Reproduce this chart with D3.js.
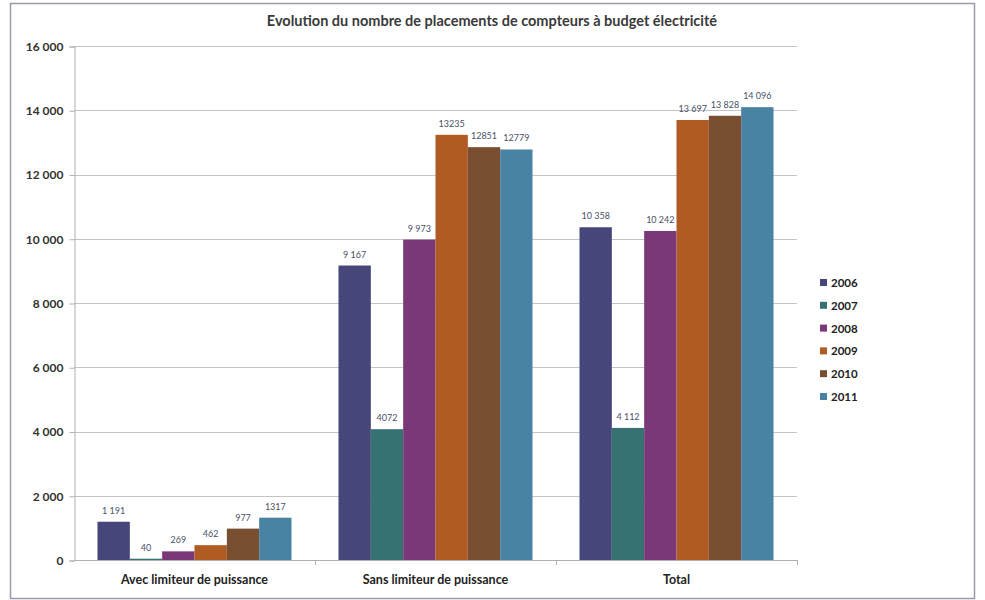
<!DOCTYPE html>
<html><head><meta charset="utf-8">
<script src="https://cdnjs.cloudflare.com/ajax/libs/d3/7.8.5/d3.min.js"></script>
<style>body{margin:0;background:#fff}svg{display:block}text{font-family:Lato,"Open Sans",sans-serif}</style>
</head><body><svg id="c" width="985" height="600"></svg>
<script>
const categories = ["Avec limiteur de puissance", "Sans limiteur de puissance", "Total"];
const years = ["2006", "2007", "2008", "2009", "2010", "2011"];
const v2006 = [1191, 9167, 10358];
const v2007 = [40, 4072, 4112];
const v2008 = [269, 9973, 10242];
const v2009 = [462, 13235, 13697];
const v2010 = [977, 12851, 13828];
const v2011 = [1317, 12779, 14096];
const labels2006 = ["1 191", "9 167", "10 358"];
const labels2007 = ["40", "4072", "4 112"];
const labels2008 = ["269", "9 973", "10 242"];
const labels2009 = ["462", "13235", "13 697"];
const labels2010 = ["977", "12851", "13 828"];
const labels2011 = ["1317", "12779", "14 096"];
const yTicks = [0, 2000, 4000, 6000, 8000, 10000, 12000, 14000, 16000];
const yTickLabels = ["0", "2 000", "4 000", "6 000", "8 000", "10 000", "12 000", "14 000", "16 000"];
const colors = ["#46467a", "#367272", "#7a3878", "#b05a24", "#7a4f31", "#4a82a3"];

const series = [v2006, v2007, v2008, v2009, v2010, v2011];
const seriesLabels = [labels2006, labels2007, labels2008, labels2009, labels2010, labels2011];

const svg = d3.select("#c");
const L = 74, R = 797, T = 46, B = 560;

// frame
svg.append("rect").attr("x", 10.5).attr("y", 3.5).attr("width", 964).attr("height", 595)
  .attr("fill", "#fff").attr("stroke", "#9a9aac").attr("stroke-width", 1.5);

const x0 = d3.scaleBand().domain(categories).range([L, R]).paddingInner(0.195).paddingOuter(0.0975);
const x1 = d3.scaleBand().domain(years).range([0, x0.bandwidth()]);
const y = d3.scaleLinear().domain([0, 16000]).range([B, T]);

// gridlines
svg.append("g").selectAll("line").data(yTicks.filter(d => d > 0)).join("line")
  .attr("x1", L).attr("x2", R).attr("y1", d => Math.round(y(d)) + 0.5).attr("y2", d => Math.round(y(d)) + 0.5)
  .attr("stroke", "#c4c4c4").attr("stroke-width", 1);

// y axis
const yAxis = d3.axisLeft(y).tickValues(yTicks).tickSize(5).tickFormat((d, i) => yTickLabels[i]);
const gy = svg.append("g").attr("transform", `translate(${L + 0.5},0.5)`).call(yAxis);
gy.select(".domain").attr("stroke", "#b0b0b0");
gy.selectAll(".tick line").attr("stroke", "#b0b0b0");
gy.selectAll(".tick text").attr("x", -11).attr("font-size", 12).attr("font-weight", "bold").attr("fill", "#333");

// x axis
const outer = d3.scaleLinear().domain([0, 3]).range([L, R]);
svg.append("line").attr("x1", L).attr("x2", R).attr("y1", B + 0.5).attr("y2", B + 0.5).attr("stroke", "#b0b0b0");
svg.append("g").selectAll("line").data([1, 2, 3]).join("line")
  .attr("x1", d => Math.round(outer(d)) + 0.5).attr("x2", d => Math.round(outer(d)) + 0.5)
  .attr("y1", B).attr("y2", B + 5).attr("stroke", "#b0b0b0");
svg.append("g").selectAll("text").data(categories).join("text")
  .attr("x", (d, i) => (outer(i) + outer(i + 1)) / 2).attr("y", 584)
  .attr("text-anchor", "middle").attr("font-size", 12.5).attr("font-weight", "bold").attr("fill", "#222")
  .text(d => d);

// bars
years.forEach((yr, si) => {
  const g = svg.append("g");
  g.selectAll("rect").data(series[si]).join("rect")
    .attr("x", (d, i) => x0(categories[i]) + x1(yr))
    .attr("y", d => y(d))
    .attr("width", x1.bandwidth())
    .attr("height", d => B - y(d))
    .attr("fill", colors[si]);
  g.selectAll("text").data(series[si]).join("text")
    .attr("x", (d, i) => x0(categories[i]) + x1(yr) + x1.bandwidth() / 2)
    .attr("y", d => y(d) - 8)
    .attr("text-anchor", "middle").attr("font-size", 9).attr("fill", "#4a5068")
    .text((d, i) => seriesLabels[si][i]);
});

// title
svg.append("text").attr("x", 492).attr("y", 26).attr("text-anchor", "middle")
  .attr("font-size", 14.5).attr("font-weight", "bold").attr("fill", "#3a3a3a")
  .text("Evolution du nombre de placements de compteurs à budget électricité");

// legend
const lg = svg.append("g").attr("transform", "translate(820,283)");
years.forEach((yr, i) => {
  const row = lg.append("g").attr("transform", `translate(0,${i * 22.8})`);
  row.append("rect").attr("x", 0).attr("y", -4).attr("width", 7).attr("height", 7).attr("fill", colors[i]);
  row.append("text").attr("x", 11).attr("y", 4).attr("font-size", 11.5).attr("font-weight", "bold").attr("fill", "#222").text(yr);
});
</script></body></html>
